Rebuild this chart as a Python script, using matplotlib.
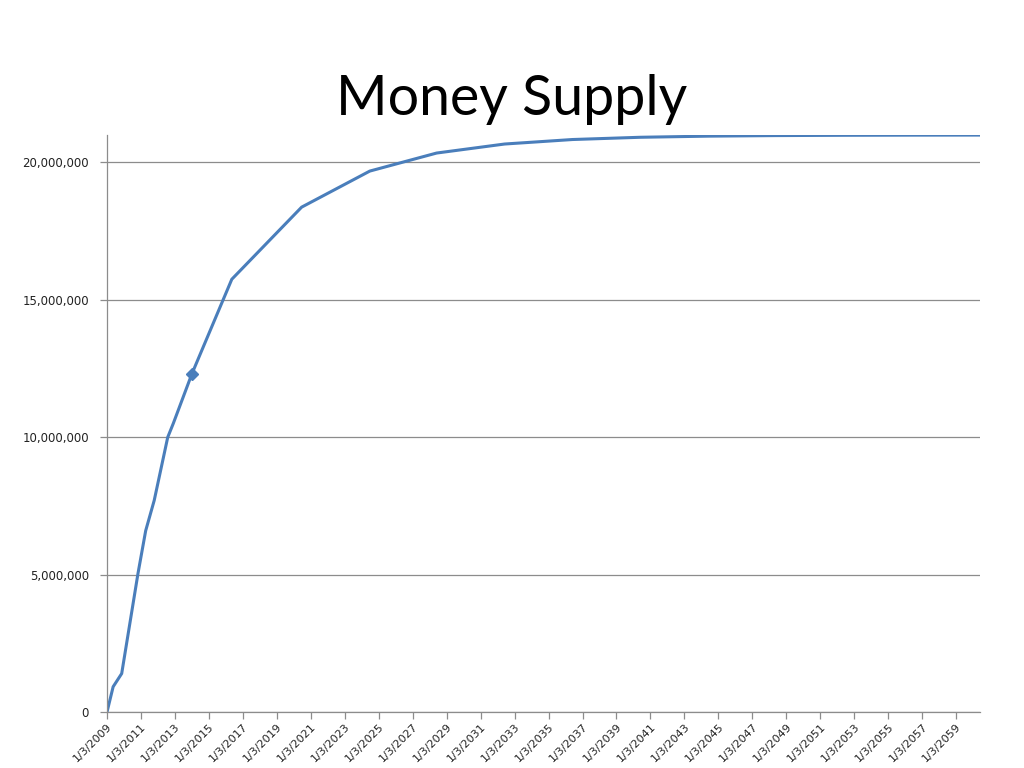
import matplotlib.pyplot as plt
import numpy as np
from datetime import datetime

# Bitcoin money supply: early observed values, then one point per halving
dates = ['2009-01-03', '2009-05-15', '2009-11-15', '2010-11-01', '2011-04-15',
         '2011-10-15', '2012-08-01', '2012-11-28', '2014-01-01', '2016-05-10',
         '2020-06-20', '2024-06-25', '2028-06-01', '2032-06-01', '2036-06-01',
         '2040-06-01', '2044-06-01', '2048-06-01', '2052-06-01', '2056-06-01',
         '2060-05-30']
supply = [0, 920000, 1400000, 5050000, 6600000,
          7700000, 10000000, 10500000, 12300000, 15750000,
          18375000, 19687500, 20343750, 20671875, 20835938,
          20917969, 20958984, 20979492, 20989746, 20994873,
          20997437]

# current date highlighted with a marker
today = '2014-01-01'
today_supply = 12300000

tick_years = list(range(2009, 2060, 2))

x = [datetime.strptime(d, '%Y-%m-%d') for d in dates]
ticks = [datetime(y, 1, 3) for y in tick_years]
tick_labels = [f'{t.month}/{t.day}/{t.year}' for t in ticks]

fig = plt.figure(figsize=(10.24, 7.68), dpi=100)
ax = fig.add_axes([0.1045, 0.0729, 0.8525, 0.7513])

line_color = '#4A7EBB'
ax.plot(x, supply, color=line_color, linewidth=2.2, solid_joinstyle='round')
ax.plot([datetime.strptime(today, '%Y-%m-%d')], [today_supply], marker='D',
        color=line_color, markersize=6, linestyle='none')

ax.set_xlim(x[0], x[-1])
ax.set_ylim(0, 21000000)

ax.set_yticks([0, 5000000, 10000000, 15000000, 20000000])
ax.yaxis.set_major_formatter(plt.FuncFormatter(lambda v, p: f'{int(v):,}'))
ax.set_xticks(ticks)
ax.set_xticklabels(tick_labels, rotation=45, ha='right', rotation_mode='anchor')

ax.grid(axis='y', color='#8c8c8c', linewidth=0.9)
ax.set_axisbelow(True)
for side in ['top', 'right']:
    ax.spines[side].set_visible(False)
for side in ['left', 'bottom']:
    ax.spines[side].set_color('#8c8c8c')
    ax.spines[side].set_linewidth(0.9)

ax.tick_params(axis='both', colors='#8c8c8c', length=5, width=0.9, labelsize=8.5,
               labelcolor='#222222')
ax.tick_params(axis='y', pad=8)
ax.tick_params(axis='x', pad=2, labelsize=8)

fig.text(0.5, 0.87, 'Money Supply', ha='center', va='center', fontsize=40,
         family=['Lato', 'DejaVu Sans'], color='black')

fig.savefig('out.png', dpi=100)
